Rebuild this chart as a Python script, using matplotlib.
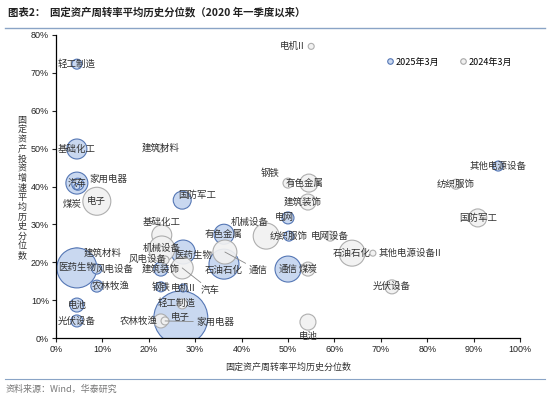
import numpy as np
import matplotlib
matplotlib.use("Agg")
import matplotlib.pyplot as plt
from matplotlib.lines import Line2D

plt.rcParams["font.family"] = ["Noto Sans CJK SC", "DejaVu Sans"]

# ---------------------------------------------------------------------
# 数据：x = 固定资产周转率历史分位数(%)，y = 固定资产投资增速历史分位数(%)
# size ~ 气泡面积
# ---------------------------------------------------------------------
names_25 = ["轻工制造", "基础化工", "汽车", "家用电器", "煤炭", "国防军工",
            "建筑材料", "医药生物", "风电设备", "农林牧渔", "电池", "光伏设备",
            "电子", "钢铁", "电机II", "建筑装饰", "机械设备", "有色金属",
            "石油石化", "通信", "电网", "纺织服饰", "其他电源设备"]
x_25 = [4.5, 4.5, 4.5, 4.7, 4.5, 27.2,
        4.5, 4.5, 8.8, 8.8, 4.5, 4.5,
        26.9, 22.6, 27.4, 22.6, 27.4, 36.2,
        36.2, 50.0, 50.0, 50.2, 95.3]
y_25 = [72.3, 49.9, 40.9, 40.6, 40.0, 36.4,
        22.4, 18.5, 18.2, 13.7, 8.7, 4.5,
        5.3, 13.5, 13.2, 18.2, 22.7, 27.4,
        19.5, 18.2, 31.7, 26.9, 45.4]
size_25 = [25, 100, 121, 36, 9, 81,
           25, 400, 25, 36, 49, 36,
           729, 25, 16, 49, 144, 100,
           225, 169, 36, 25, 25]

names_24 = ["电机II", "电子", "建筑材料", "基础化工", "医药生物", "国防军工",
            "钢铁", "有色金属", "建筑装饰", "其他电源设备II", "纺织服饰",
            "机械设备", "电网设备", "石油石化", "通信", "煤炭", "汽车",
            "风电设备", "光伏设备", "电池", "轻工制造", "农林牧渔", "家用电器"]
x_24 = [55.0, 8.8, 22.6, 22.8, 22.8, 90.9,
        50.0, 54.5, 54.3, 68.3, 86.2,
        45.3, 59.1, 63.8, 36.4, 54.3, 27.2,
        23.5, 72.4, 54.3, 27.2, 22.6, 23.5]
y_24 = [77.0, 36.1, 50.1, 27.2, 23.5, 31.7,
        40.9, 40.9, 35.9, 22.4, 40.6,
        26.9, 26.9, 22.4, 22.7, 18.2, 18.5,
        20.6, 13.5, 4.2, 9.0, 4.5, 4.5]
size_24 = [9, 196, 16, 100, 169, 81,
           25, 81, 64, 9, 25,
           169, 25, 169, 144, 49, 121,
           16, 49, 64, 25, 49, 16]

# 标签偏移（像素，向右/向下为正），未列出的居中
off_25 = {"家用电器": (31, -5), "煤炭": (-5, 18), "国防军工": (15, -5),
          "建筑材料": (26, 0), "风电设备": (18, 0), "农林牧渔": (14, 0),
          "机械设备": (-21, -4), "石油石化": (0, 6), "电网": (-4, 0)}
off_24 = {"电机II": (-19, 0), "基础化工": (0, -13), "医药生物": (31, 6),
          "钢铁": (-18, -10), "有色金属": (-4, 0), "建筑装饰": (-5, 0),
          "其他电源设备II": (37, 0), "机械设备": (-16, -14),
          "通信": (33, 18), "汽车": (28, 22), "风电设备": (-17, -1),
          "电池": (0, 14), "轻工制造": (-6, -1), "农林牧渔": (-22, 0),
          "家用电器": (50, 1)}
leader_24 = ["通信", "汽车", "家用电器"]

BLUE_FC, BLUE_EC = "#c9d8f0", "#5577b5"
GRAY_FC, GRAY_EC = "#f1f1f1", "#a8a8a8"
PX2PT = 0.72

fig = plt.figure(figsize=(5.5, 3.96), dpi=100)
ax = fig.add_axes([56 / 550, 1 - 338 / 396, 464 / 550, 303 / 396])

ax.scatter(x_25, y_25, s=np.array(size_25) * 2.07, facecolor=BLUE_FC,
           edgecolor=BLUE_EC, linewidth=0.8, zorder=2)
ax.scatter(x_24, y_24, s=np.array(size_24) * 2.07, facecolor=GRAY_FC,
           edgecolor=GRAY_EC, linewidth=0.8, alpha=0.92, zorder=3)


def put_labels(names, xs, ys, offsets, leaders=()):
    for n, xv, yv in zip(names, xs, ys):
        dx, dy = offsets.get(n, (0, 0))
        kw = {}
        if n in leaders:
            kw["arrowprops"] = dict(arrowstyle="-", color="#888888", lw=0.6,
                                    shrinkA=0, shrinkB=0)
        ax.annotate(n, (xv, yv), xytext=(dx * PX2PT, -dy * PX2PT),
                    textcoords="offset points", ha="center", va="center",
                    fontsize=6.8, color="#333333", zorder=5, **kw)


put_labels(names_25, x_25, y_25, off_25)
put_labels(names_24, x_24, y_24, off_24, leader_24)

ax.set_xlim(0, 100)
ax.set_ylim(0, 80)
ax.set_xticks(np.arange(0, 101, 10))
ax.set_yticks(np.arange(0, 81, 10))
ax.set_xticklabels([f"{v}%" for v in range(0, 101, 10)])
ax.set_yticklabels([f"{v}%" for v in range(0, 81, 10)])
ax.tick_params(labelsize=6.5, length=3, width=0.8, pad=2, colors="#222222")
for lab in ax.get_xticklabels() + ax.get_yticklabels():
    lab.set_family("Liberation Sans")
for sp in ["top", "right"]:
    ax.spines[sp].set_visible(False)
for sp in ["left", "bottom"]:
    ax.spines[sp].set_linewidth(0.9)

ax.set_xlabel("固定资产周转率平均历史分位数", fontsize=6.5, color="#333333",
              labelpad=6)
fig.text(22 / 550, 1 - 188 / 396, "\n".join("固定资产投资增速平均历史分位数"),
         fontsize=6.5, color="#333333", ha="center", va="center",
         linespacing=1.08)

handles = [
    Line2D([], [], marker="o", ls="", markersize=4, markerfacecolor=BLUE_FC,
           markeredgecolor=BLUE_EC, markeredgewidth=0.8, label="2025年3月"),
    Line2D([], [], marker="o", ls="", markersize=4, markerfacecolor=GRAY_FC,
           markeredgecolor=GRAY_EC, markeredgewidth=0.8, label="2024年3月"),
]
ax.legend(handles=handles, ncol=2, frameon=False, fontsize=6.5,
          loc="center left", bbox_to_anchor=(381 / 550, 1 - 62 / 396),
          bbox_transform=fig.transFigure, handletextpad=0.1,
          columnspacing=2.2, handlelength=1.0, borderpad=0)

fig.text(8 / 550, 1 - 12 / 396,
         "图表2：  固定资产周转率平均历史分位数（2020 年一季度以来）",
         fontsize=7.5, fontweight="bold", color="#222222", va="center")
fig.add_artist(Line2D([5 / 550, 545 / 550], [1 - 28 / 396, 1 - 28 / 396],
                      color="#8aa4c6", lw=1.0))
fig.add_artist(Line2D([5 / 550, 545 / 550], [1 - 379 / 396, 1 - 379 / 396],
                      color="#8aa4c6", lw=0.8))
fig.text(6 / 550, 1 - 389 / 396, "资料来源：Wind，华泰研究", fontsize=6.5,
         color="#777777", va="center")

fig.savefig("out.png", dpi=100)
